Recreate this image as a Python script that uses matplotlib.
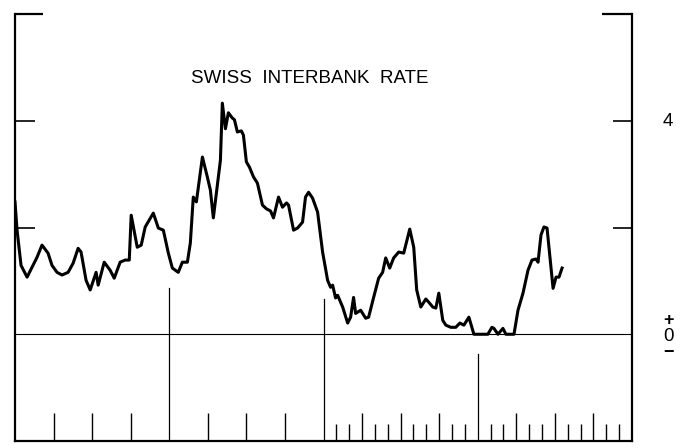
import matplotlib
matplotlib.use("Agg")
import matplotlib.pyplot as plt

# Time in months from start of chart (0..48), Swiss interbank rate (%)
months = [0.00, 0.16, 0.47, 0.94, 1.71, 2.10, 2.57, 2.88, 3.27, 3.66, 4.13, 4.52, 4.91, 5.14,
          5.53, 5.85, 6.31, 6.47, 6.94, 7.40, 7.72, 8.18, 8.57, 8.89, 9.04, 9.51, 9.82, 10.13,
          10.76, 11.15, 11.54, 11.93, 12.24, 12.70, 13.02, 13.41, 13.64, 13.87, 14.11, 14.58,
          14.96, 15.20, 15.43, 15.98, 16.13, 16.37, 16.60, 16.91, 17.07, 17.30, 17.61, 17.77,
          18.00, 18.24, 18.55, 18.86, 19.25, 19.56, 19.88, 20.11, 20.50, 20.81, 21.12, 21.28,
          21.67, 21.98, 22.37, 22.60, 22.84, 23.15, 23.54, 23.93, 24.32, 24.55, 24.71, 24.94,
          25.10, 25.49, 25.88, 26.11, 26.34, 26.50, 26.89, 27.28, 27.51, 27.90, 28.29, 28.60,
          28.84, 29.15, 29.46, 29.85, 30.24, 30.71, 31.02, 31.25, 31.57, 31.96, 32.19, 32.50,
          32.74, 32.97, 33.28, 33.52, 33.90, 34.29, 34.61, 34.92, 35.31, 35.70, 36.79, 37.10,
          37.26, 37.57, 37.96, 38.19, 38.82, 39.13, 39.52, 39.91, 40.22, 40.53, 40.69, 40.92,
          41.15, 41.39, 41.54, 41.86, 42.09, 42.32, 42.56]
rate = [2.48, 1.95, 1.29, 1.07, 1.44, 1.67, 1.52, 1.29, 1.16, 1.11, 1.16, 1.33, 1.61, 1.54,
        1.01, 0.83, 1.16, 0.92, 1.35, 1.20, 1.05, 1.35, 1.39, 1.39, 2.23, 1.63, 1.67, 2.01,
        2.27, 1.99, 1.95, 1.52, 1.24, 1.16, 1.35, 1.35, 1.71, 2.57, 2.48, 3.32,
        2.95, 2.70, 2.18, 3.26, 4.33, 3.85, 4.15, 4.05, 4.02, 3.79, 3.81, 3.73,
        3.23, 3.13, 2.95, 2.83, 2.42, 2.35, 2.31, 2.18, 2.57, 2.38, 2.46, 2.42,
        1.95, 1.99, 2.10, 2.57, 2.66, 2.55, 2.29, 1.54, 1.01, 0.88, 0.92, 0.68,
        0.73, 0.51, 0.21, 0.32, 0.69, 0.39, 0.45, 0.30, 0.32, 0.69, 1.05, 1.16,
        1.43, 1.24, 1.43, 1.54, 1.52, 1.97, 1.63, 0.83, 0.51, 0.66, 0.60, 0.51,
        0.49, 0.77, 0.26, 0.17, 0.13, 0.13, 0.21, 0.17, 0.32, 0.00, 0.00, 0.13,
        0.11, 0.00, 0.11, 0.00, 0.00, 0.45, 0.77, 1.20, 1.39, 1.41, 1.35, 1.86,
        2.01, 1.99, 1.63, 0.86, 1.07, 1.07, 1.24]

title = "SWISS  INTERBANK  RATE"
ytick_values = [4, 2]
year_lines = [12, 24, 36]
year_line_tops = [0.86, 0.66, -0.375]
quarter_ticks = [3, 6, 9, 15, 18, 21, 27, 30, 33, 39, 42, 45]
month_ticks = [25, 26, 28, 29, 31, 32, 34, 35, 37, 38, 40, 41, 43, 44, 46, 47]

plt.rcParams['font.family'] = ['Liberation Sans', 'DejaVu Sans']

fig = plt.figure(figsize=(6.81, 4.48), dpi=100)
ax = fig.add_axes([15/681, 7/448, 617/681, 427/448])
ax.set_xlim(0, 48)
ax.set_ylim(-2, 6)
ax.set_xticks([])
ax.set_yticks([])
for s in ['left', 'right', 'bottom']:
    ax.spines[s].set_linewidth(1.6)
ax.spines['top'].set_visible(False)

# partial top frame
ax.plot([0, 2.2], [6, 6], color='black', lw=1.6, clip_on=False, solid_capstyle='butt')
ax.plot([45.7, 48], [6, 6], color='black', lw=1.6, clip_on=False, solid_capstyle='butt')

# y ticks inside on both sides
for v in ytick_values:
    ax.plot([0, 1.55], [v, v], color='black', lw=1.2, solid_capstyle='butt')
    ax.plot([46.5, 48], [v, v], color='black', lw=1.2, solid_capstyle='butt')

# zero line
ax.axhline(0, color='black', lw=0.8)

# year lines and bottom ticks
for m, top in zip(year_lines, year_line_tops):
    ax.plot([m, m], [-2, top], color='black', lw=0.9)
ax.vlines(quarter_ticks, -2, -1.47, color='black', lw=1.0)
ax.vlines(month_ticks, -2, -1.68, color='black', lw=1.0)

# data line
ax.plot(months, rate, color='black', lw=2.2, solid_joinstyle='round')

# texts
fig.text(310/681, 1 - 78.5/448, title, ha='center', va='center', fontsize=13.5)
fig.text(668/681, 1 - 121/448, "4", ha='center', va='center', fontsize=13.5)
fig.text(668/681, 1 - 336.5/448, "0", ha='center', va='center', fontsize=13.5)
fig.text(668/681, 1 - 321/448, "+", ha='center', va='center', fontsize=13, fontweight='bold')
fig.text(668/681, 1 - 352/448, "\u2212", ha='center', va='center', fontsize=13, fontweight='bold')

fig.savefig("out.png", dpi=100)
